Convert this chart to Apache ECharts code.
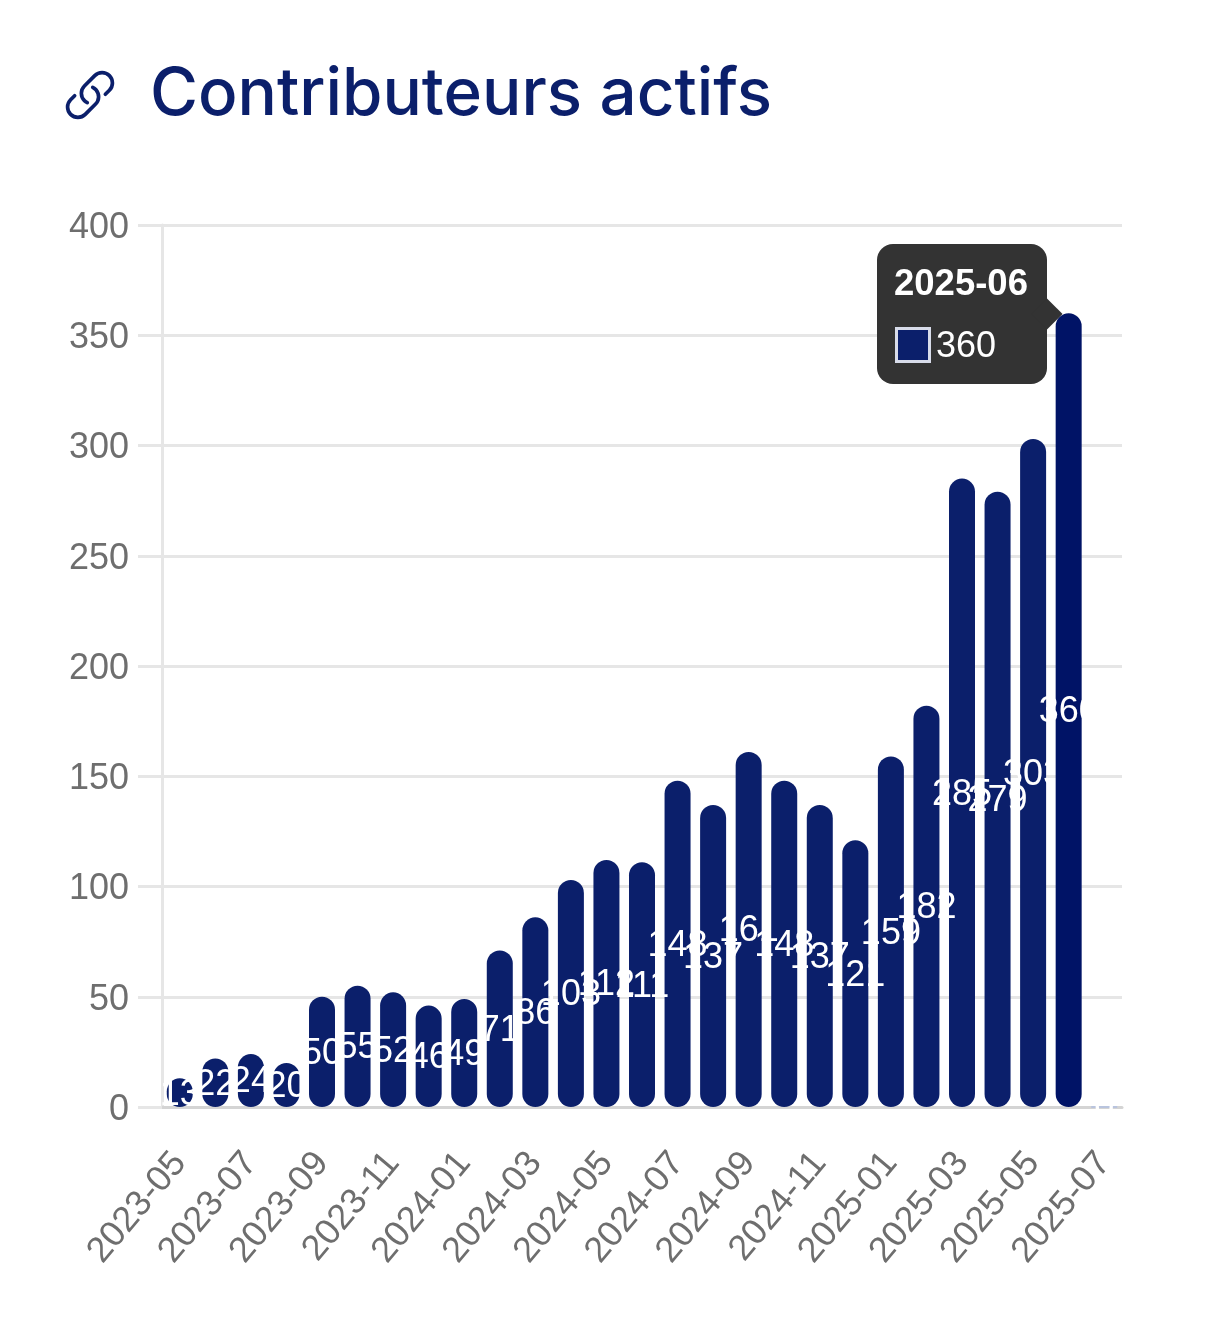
<!DOCTYPE html>
<html lang="fr">
  <head>
    <meta charset="UTF-8" />
    <title>Contributeurs actifs</title>
    <style>
      html, body { margin: 0; padding: 0; background: #fff; }
      #main { width: 1206px; height: 1326px; }
    </style>
  </head>
  <body>
    <div id="main"></div>
    <script src="https://cdn.jsdelivr.net/npm/echarts@6/dist/echarts.min.js"></script>
    <script>
      const myChart = echarts.init(document.getElementById('main'))

      var months = [
        '2023-05', '2023-06', '2023-07', '2023-08', '2023-09', '2023-10', '2023-11', '2023-12', '2024-01',
        '2024-02', '2024-03', '2024-04', '2024-05', '2024-06', '2024-07', '2024-08', '2024-09', '2024-10',
        '2024-11', '2024-12', '2025-01', '2025-02', '2025-03', '2025-04', '2025-05', '2025-06', '2025-07'
      ]
      var contributors = [
        13, 22, 24, 20, 50, 55, 52, 46, 49, 71, 86, 103, 112, 111, 148, 137, 161, 148, 137, 121, 159, 182, 285, 279,
        303, 360, 0
      ]
      var titleText = 'Contributeurs actifs'

      var navy = '#0b1f6b'
      var navyHover = '#001366'
      var gridColor = '#e6e6e6'
      var axisText = '#6e6e6e'
      var labelFont = '"Liberation Sans", Arial, sans-serif'
      var activeIndex = 25

      // icone lien
      echarts.graphic.registerShape(
        'linkIcon',
        echarts.graphic.extendPath(
          'M13.19 8.688a4.5 4.5 0 0 1 1.242 7.244l-4.5 4.5a4.5 4.5 0 0 1-6.364-6.364l1.757-1.757m13.35-.622 1.757-1.757a4.5 4.5 0 0 0-6.364-6.364l-4.5 4.5a4.5 4.5 0 0 0 1.242 7.244',
          {}
        )
      )

      var barData = contributors.map(function (v) {
        if (v === 0) {
          // le mois en cours n'a pas de valeur : juste un trait sur l'axe
          return { value: v, itemStyle: { borderRadius: 0, borderColor: '#b9c4de', borderWidth: 2 } }
        }
        return v
      })

      option = {
        backgroundColor: '#fff',
        animation: false,
        title: {
          text: titleText,
          left: 145,
          top: 57,
          textStyle: { fontFamily: 'Inter', fontSize: 65.5, fontWeight: 500, color: navy }
        },
        graphic: [
          {
            type: 'linkIcon',
            x: 62.4,
            y: 67.4,
            scaleX: 2.3,
            scaleY: 2.3,
            style: { fill: 'none', stroke: navy, lineWidth: 1.6, lineCap: 'round', lineJoin: 'round' }
          }
        ],
        tooltip: {
          trigger: 'item',
          alwaysShowContent: true,
          transitionDuration: 0,
          backgroundColor: 'transparent',
          borderWidth: 0,
          padding: 0,
          extraCssText: 'box-shadow:none;',
          position: function () {
            return [877, 244]
          },
          formatter: function (p) {
            return (
              '<div style="position:relative;width:170px;height:140px;box-sizing:border-box;background:#333;border-radius:16px;color:#fff;font-family:' +
              "'Liberation Sans',Arial,sans-serif" +
              ';font-size:36px;line-height:40px;">' +
              '<div style="position:absolute;left:159px;top:59px;width:22px;height:22px;background:#333;transform:rotate(45deg);"></div>' +
              '<div style="position:absolute;left:17px;top:19px;font-weight:bold;font-size:36.5px;white-space:nowrap;">' + p.name + '</div>' +
              '<div style="position:absolute;left:18px;top:83px;width:36px;height:36px;box-sizing:border-box;background:' + navy + ';border:3px solid #d8dcea;"></div>' +
              '<div style="position:absolute;left:59px;top:81px;">' + p.value + '</div>' +
              '</div>'
            )
          }
        },
        grid: { left: 162, right: 84, top: 225, bottom: 219 },
        xAxis: {
          type: 'category',
          data: months,
          axisLine: { show: true, lineStyle: { color: '#d4d4d4', width: 3 } },
          axisTick: { show: false },
          axisLabel: {
            interval: 1,
            rotate: 50,
            margin: 50,
            color: axisText,
            fontFamily: labelFont,
            fontSize: 36
          }
        },
        yAxis: {
          type: 'value',
          min: 0,
          max: 400,
          interval: 50,
          axisLine: { show: true, lineStyle: { color: gridColor, width: 3 } },
          axisTick: { show: true, length: 24, lineStyle: { color: gridColor, width: 3 } },
          splitLine: { show: true, lineStyle: { color: gridColor, width: 3 } },
          axisLabel: {
            margin: 33,
            formatter: '{v|{value}}',
            rich: { v: { padding: [6, 0, 0, 0], color: axisText, fontFamily: labelFont, fontSize: 36 } }
          }
        },
        series: [
          {
            type: 'bar',
            name: 'Contributeurs',
            data: barData,
            barWidth: 26,
            itemStyle: { color: navy, borderRadius: 13 },
            emphasis: { itemStyle: { color: navyHover } },
            label: {
              show: true,
              position: 'inside',
              offset: [0, 2],
              color: '#fff',
              fontFamily: labelFont,
              fontSize: 36,
              textBorderWidth: 0
            }
          }
        ]
      }

      myChart.setOption(option)
      myChart.dispatchAction({ type: 'highlight', seriesIndex: 0, dataIndex: activeIndex })
      myChart.dispatchAction({ type: 'showTip', seriesIndex: 0, dataIndex: activeIndex })
    </script>
  </body>
</html>
